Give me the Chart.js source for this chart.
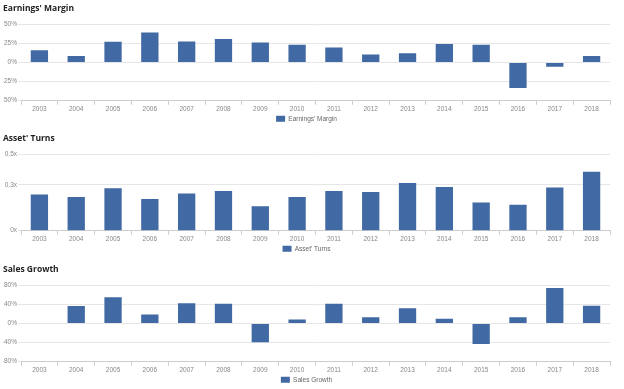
<!DOCTYPE html>
<html>
<head>
<meta charset="utf-8">
<script src="https://cdn.jsdelivr.net/npm/chart.js@4/dist/chart.umd.min.js"></script>
<style>
  html, body { margin: 0; padding: 0; background: #fff; }
  .box { position: absolute; left: 0; width: 624px; height: 130px; }
</style>
</head>
<body>
<div class="box" style="top:0"><canvas id="c1"></canvas></div>
<div class="box" style="top:130px"><canvas id="c2"></canvas></div>
<div class="box" style="top:261px"><canvas id="c3"></canvas></div>
<script>
const years = ['2003', '2004', '2005', '2006', '2007', '2008', '2009', '2010',
  '2011', '2012', '2013', '2014', '2015', '2016', '2017', '2018']

// values
const earningsMargin = [16, 8.5, 27, 39, 27.5, 30.5, 26, 23, 19.5, 10.5, 12, 24, 23, -33.5, -5.5, 8.5]
const assetTurns = [0.236, 0.221, 0.277, 0.207, 0.243, 0.259, 0.16, 0.221,
  0.259, 0.253, 0.311, 0.286, 0.185, 0.169, 0.282, 0.385]
const salesGrowth = [null, 36.5, 55, 18.5, 42, 41, -39.5, 8.5, 41, 13, 32, 10, -43, 13, 74, 37]

const marginTicks = [-50, -25, 0, 25, 50]
const turnsTicks = [0, 0.3, 0.5]
const growthTicks = [-80, -40, 0, 40, 80]

const barColor = '#4169a4'
const tickFont = { family: 'Arial, "Liberation Sans", sans-serif', size: 6.5 }

const makeChart = (id, title, label, values, ticks, fmt) =>
  new Chart(document.getElementById(id), {
    type: 'bar',
    data: {
      labels: years,
      datasets: [{
        label,
        data: values,
        backgroundColor: barColor,
        barPercentage: 0.47,
        categoryPercentage: 1,
      }],
    },
    options: {
      responsive: true,
      maintainAspectRatio: false,
      animation: false,
      layout: { padding: { left: 3, right: 14, top: 0, bottom: -2 } },
      plugins: {
        title: {
          display: true,
          text: title,
          align: 'start',
          color: '#222',
          font: { family: '"Open Sans", Arial, sans-serif', size: 8.5, weight: 'bold' },
          padding: { top: 3, bottom: 11 },
        },
        legend: {
          position: 'bottom',
          labels: {
            boxWidth: 9,
            boxHeight: 6,
            padding: 1,
            color: '#666',
            font: { family: 'Arial, "Liberation Sans", sans-serif', size: 6.5 },
          },
        },
        tooltip: { enabled: false },
      },
      scales: {
        x: {
          offset: true,
          grid: {
            offset: true,
            drawOnChartArea: false,
            tickLength: 4,
            color: '#ccc',
          },
          border: { color: '#ccc' },
          ticks: { color: '#888', font: tickFont, padding: 1, maxRotation: 0 },
        },
        y: {
          min: ticks[0],
          max: ticks[ticks.length - 1],
          afterBuildTicks: (scale) => {
            scale.ticks = ticks.map((v) => ({ value: v }))
          },
          afterFit: (scale) => {
            scale.width = 18
          },
          grid: { color: '#e6e6e6', tickLength: 3 },
          border: { display: false },
          ticks: {
            color: '#888',
            font: tickFont,
            padding: 1,
            callback: fmt,
          },
        },
      },
    },
  })

makeChart('c1', "Earnings' Margin", "Earnings' Margin", earningsMargin, marginTicks, (v) => v + '%')
makeChart('c2', "Asset' Turns", "Asset' Turns", assetTurns, turnsTicks, (v) => v + 'x')
makeChart('c3', 'Sales Growth', 'Sales Growth', salesGrowth, growthTicks, (v) => v + '%')
</script>
</body>
</html>
